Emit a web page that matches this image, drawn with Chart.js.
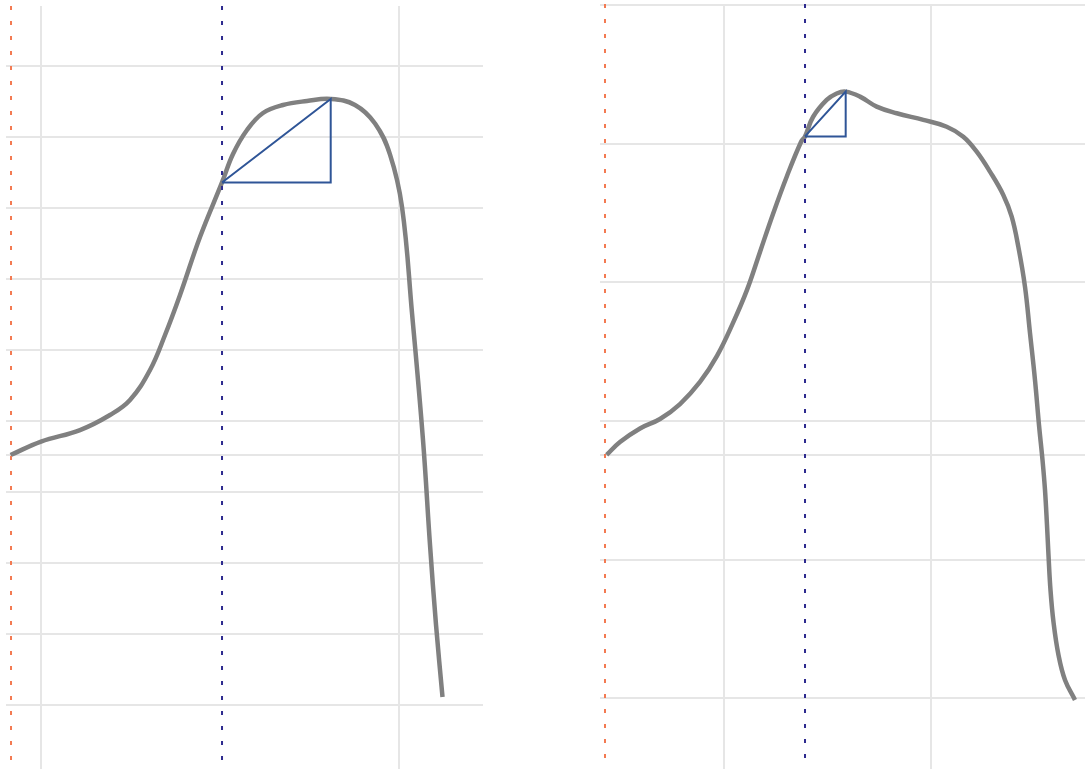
<!DOCTYPE html>
<html>
<head>
<meta charset="utf-8">
<script src="https://cdn.jsdelivr.net/npm/chart.js@4.4.1/dist/chart.umd.min.js"></script>
<style>
  html, body { margin: 0; padding: 0; background: #ffffff; overflow: hidden; }
  #wrap { position: relative; width: 1085px; height: 769px; }
  canvas { position: absolute; top: 0; }
  #leftPanel { left: 0; }
  #rightPanel { left: 540px; }
</style>
</head>
<body>
<div id="wrap">
  <canvas id="leftPanel" width="540" height="769"></canvas>
  <canvas id="rightPanel" width="545" height="769"></canvas>
</div>
<script>
// ---- Left panel: profile curve ----
const leftX = [-0.85, 0, 1.089, 1.927, 2.486, 3.045, 3.464, 3.883, 4.441, 5.056, 5.363, 5.754,
  6.201, 6.760, 7.430, 8.092, 8.771, 9.330, 9.749, 10.084, 10.363, 10.670, 10.866, 11.034, 11.215];
const leftY = [3.521, 3.711, 3.873, 4.085, 4.296, 4.718, 5.211, 5.775, 6.592, 7.360, 7.761, 8.099,
  8.338, 8.451, 8.507, 8.535, 8.451, 8.190, 7.752, 7.014, 5.521, 3.732, 2.254, 1.127, 0.113];
const leftGridX = [0, 10];
const leftGridY = [0, 1, 2, 3, 4, 5, 6, 7, 8, 9];
const leftBaseline = 3.521;
const leftStartMark = -0.838;  // orange marker
const leftCutMark = 5.056;     // blue marker
const leftRangeX = [-0.978, 12.346];
const leftRangeY = [-0.901, 9.845];

// ---- Right panel: profile curve ----
const rightX = [-5.705, -5.061, -4.092, -3.123, -2.155, -1.186, -0.363, 0.412, 1.090, 1.719,
  2.349, 3.027, 3.705, 3.899, 4.286, 4.949, 5.433, 5.869, 6.562, 7.370, 8.339, 9.627, 10.760,
  11.564, 12.213, 12.857, 13.501, 13.908, 14.228, 14.552, 14.794, 15.036, 15.230, 15.400,
  15.521, 15.617, 15.690, 15.787, 15.932, 16.174, 16.489, 16.973];
const rightY = [1.755, 1.848, 1.946, 2.014, 2.122, 2.281, 2.469, 2.707, 2.945, 3.219, 3.493,
  3.767, 4.012, 4.052, 4.192, 4.315, 4.362, 4.375, 4.339, 4.267, 4.219, 4.171, 4.122, 4.050,
  3.942, 3.798, 3.630, 3.473, 3.257, 2.968, 2.634, 2.296, 1.971, 1.719, 1.502, 1.250, 1.033,
  0.781, 0.550, 0.312, 0.132, -0.012];
const rightGridX = [0, 10];
const rightGridY = [0, 1, 2, 3, 4, 5];
const rightBaseline = 1.755;
const rightStartMark = -5.787;
const rightCutMark = 3.899;
const rightRangeX = [-6.029, 17.458];
const rightRangeY = [-0.51, 5.007];

// ---- Styles ----
const CURVE_COLOR = '#808080';
const GRID_COLOR = '#e6e6e6';
const START_COLOR = '#f37a52';
const CUT_COLOR = '#2e2b8f';
const TRI_COLOR = '#2f5597';

function points(xs, ys) {
  return xs.map((x, i) => ({ x: x, y: ys[i] }));
}

// Right triangle from the curve point at the cut marker up to the curve maximum
function slopeTriangle(xs, ys, cut) {
  const i = xs.indexOf(cut);
  let p = 0;
  ys.forEach((v, k) => { if (v > ys[p]) p = k; });
  return [
    { x: xs[i], y: ys[i] },
    { x: xs[p], y: ys[i] },
    { x: xs[p], y: ys[p] },
    { x: xs[i], y: ys[i] }
  ];
}

function vline(x, range) {
  return [{ x: x, y: range[1] }, { x: x, y: range[0] }];
}

function axis(range, gridValues) {
  return {
    type: 'linear',
    min: range[0],
    max: range[1],
    afterBuildTicks: s => { s.ticks = gridValues.map(v => ({ value: v })); },
    ticks: { display: false },
    grid: { color: GRID_COLOR, lineWidth: 2, drawTicks: false },
    border: { display: false }
  };
}

function makePanel(canvasId, xs, ys, gridX, gridY, baseline, startMark, cutMark, rangeX, rangeY, padding) {
  new Chart(document.getElementById(canvasId), {
    type: 'line',
    data: {
      datasets: [
        {
          data: slopeTriangle(xs, ys, cutMark),
          borderColor: TRI_COLOR, borderWidth: 2, pointRadius: 0, tension: 0, fill: false
        },
        {
          data: vline(cutMark, rangeY),
          borderColor: CUT_COLOR, borderWidth: 2, borderDash: [4, 11], pointRadius: 0, fill: false
        },
        {
          data: vline(startMark, rangeY),
          borderColor: START_COLOR, borderWidth: 2, borderDash: [4, 11], pointRadius: 0, fill: false
        },
        {
          data: points(xs, ys),
          borderColor: CURVE_COLOR, borderWidth: 4.5, pointRadius: 0,
          tension: 0.4, fill: false
        }
      ]
    },
    options: {
      responsive: false,
      animation: false,
      devicePixelRatio: 1,
      layout: { padding: padding },
      plugins: { legend: { display: false }, tooltip: { enabled: false } },
      events: [],
      scales: {
        x: axis(rangeX, gridX),
        y: axis(rangeY, gridY.concat([baseline]))
      }
    }
  });
}

makePanel('leftPanel', leftX, leftY, leftGridX, leftGridY, leftBaseline,
  leftStartMark, leftCutMark, leftRangeX, leftRangeY, { left: 6, right: 57, top: 6, bottom: 0 });
makePanel('rightPanel', rightX, rightY, rightGridX, rightGridY, rightBaseline,
  rightStartMark, rightCutMark, rightRangeX, rightRangeY, { left: 60, right: 0, top: 4, bottom: 0 });
</script>
</body>
</html>
